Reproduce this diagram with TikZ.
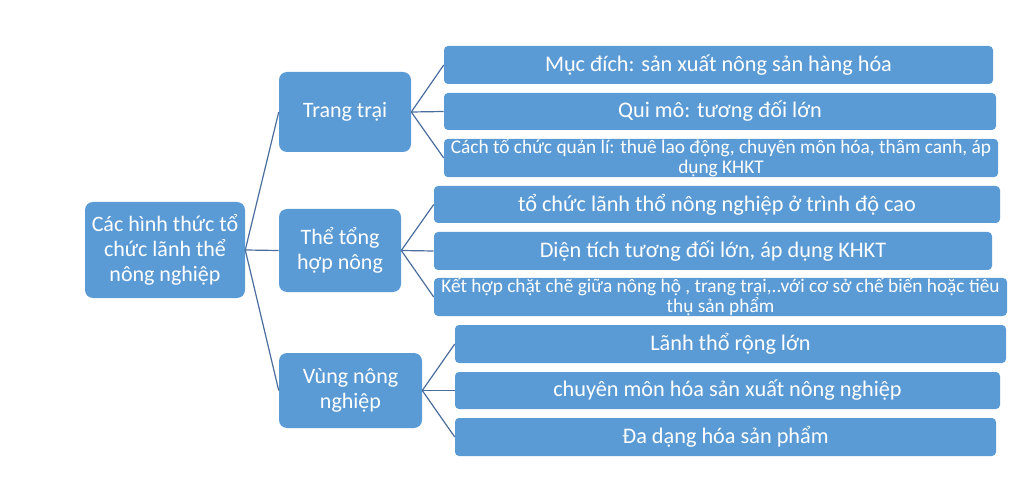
\documentclass[tikz,border=0pt]{standalone}
\usepackage{fontspec}
\setmainfont{Carlito}
\definecolor{boxblue}{HTML}{5B9BD5}
\definecolor{lineblue}{HTML}{4A6D9E}
\tikzset{
	bigbox/.style={fill=boxblue, rounded corners=6pt, inner sep=0pt, align=center, text=white, font=\fontsize{16.5}{18.5}\selectfont},
	itembox/.style={fill=boxblue, rounded corners=3pt, inner sep=0pt, align=center, text=white, font=\fontsize{16.7}{18.5}\selectfont},
	smalltext/.style={font=\fontsize{14.5}{15}\selectfont},
	link/.style={draw=lineblue, line width=0.9pt}
}
\begin{document}
\begin{tikzpicture}[x=0.75pt,y=-0.75pt]
		\useasboundingbox (0,0) rectangle (1024,488);
		
		\node[bigbox, minimum width={160*0.75pt}, minimum height={96*0.75pt}] (root) at (165,250) {Các hình thức tổ\\chức lãnh thể\\nông nghiệp};
		
		\node[bigbox, minimum width={132*0.75pt}, minimum height={80*0.75pt}] (trang) at (345,112) {Trang trại};
		\node[bigbox, minimum width={122*0.75pt}, minimum height={83*0.75pt}] (the) at (340,250.5) {Thể tổng\\hợp nông};
		\node[bigbox, minimum width={143*0.75pt}, minimum height={75*0.75pt}] (vung) at (350.5,390.5) {Vùng nông\\nghiệp};
		
		\node[itembox, minimum width={549*0.75pt}, minimum height={38*0.75pt}] (t1) at (718.5,65) {Mục đích: sản xuất nông sản hàng hóa};
		\node[itembox, minimum width={552*0.75pt}, minimum height={37*0.75pt}] (t2) at (720,111.5) {Qui mô: tương đối lớn};
		\node[itembox, smalltext, minimum width={554*0.75pt}, minimum height={38*0.75pt}] (t3) at (721,158) {Cách tổ chức quản lí: thuê lao động, chuyên môn hóa, thâm canh, áp\\dụng KHKT};
		
		\node[itembox, minimum width={566*0.75pt}, minimum height={37*0.75pt}] (h1) at (717,204.5) {tổ chức lãnh thổ nông nghiệp ở trình độ cao};
		\node[itembox, minimum width={558*0.75pt}, minimum height={38*0.75pt}] (h2) at (713,251) {Diện tích tương đối lớn, áp dụng KHKT};
		\node[itembox, smalltext, minimum width={573*0.75pt}, minimum height={38*0.75pt}] (h3) at (720.5,297) {Kết hợp chặt chẽ giữa nông hộ , trang trại,..với cơ sở chế biến hoặc tiêu\\thụ sản phẩm};
		
		\node[itembox, minimum width={551*0.75pt}, minimum height={38*0.75pt}] (v1) at (730.5,344) {Lãnh thổ rộng lớn};
		\node[itembox, minimum width={545*0.75pt}, minimum height={37*0.75pt}] (v2) at (727.5,390.5) {chuyên môn hóa sản xuất nông nghiệp};
		\node[itembox, minimum width={541*0.75pt}, minimum height={38*0.75pt}] (v3) at (725.5,437) {Đa dạng hóa sản phẩm};
		
		\draw[link]  (root.east) -- (trang.west);
		\draw[link]  (root.east) -- (the.west);
		\draw[link]  (root.east) -- (vung.west);
		
		\draw[link]  (trang.east) -- (t1.west);
		\draw[link]  (trang.east) -- (t2.west);
		\draw[link]  (trang.east) -- (t3.west);
		\draw[link]  (the.east) -- (h1.west);
		\draw[link]  (the.east) -- (h2.west);
		\draw[link]  (the.east) -- (h3.west);
		\draw[link]  (vung.east) -- (v1.west);
		\draw[link]  (vung.east) -- (v2.west);
		\draw[link]  (vung.east) -- (v3.west);
		\end{tikzpicture}
\end{document}
